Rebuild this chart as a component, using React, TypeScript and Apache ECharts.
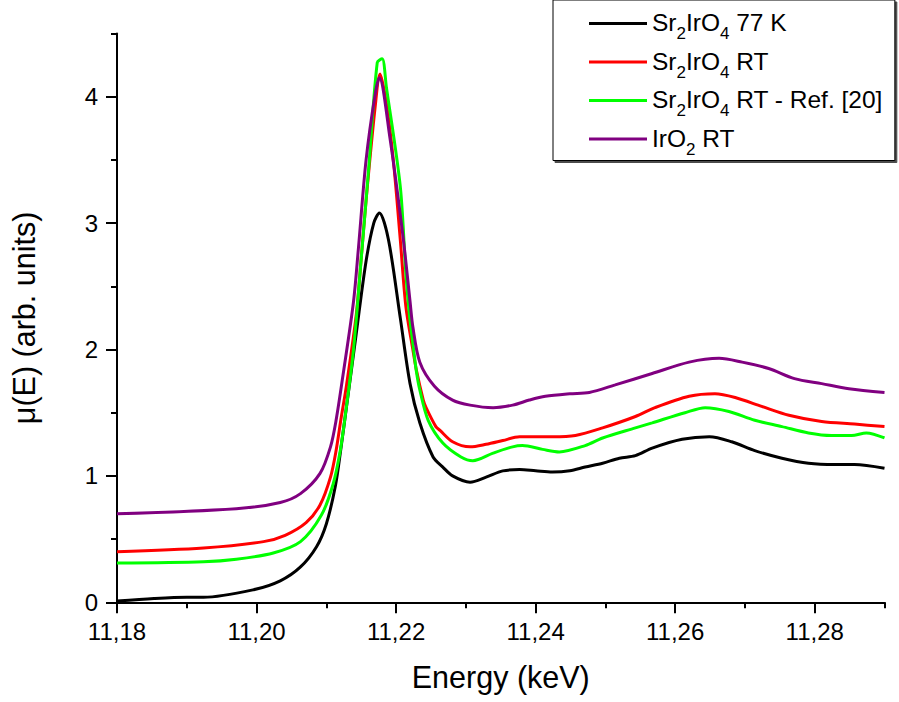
import React, { useEffect, useRef } from 'react';
import * as echarts from 'echarts';

// Energy (keV), mu(E) pairs
const sr2iro4_77K: [number, number][] = [
  [11.18, 0.01], [11.1853, 0.03], [11.19, 0.04], [11.1924, 0.04], [11.1996, 0.1],
  [11.2034, 0.17], [11.2063, 0.28], [11.2086, 0.44], [11.21, 0.62], [11.2113, 0.92],
  [11.2121, 1.22], [11.2129, 1.55], [11.2143, 2.13], [11.2157, 2.7], [11.2168, 3.0],
  [11.2176, 3.08], [11.2189, 2.87], [11.2206, 2.25], [11.222, 1.73], [11.2234, 1.42],
  [11.2253, 1.15], [11.2267, 1.07], [11.2281, 1.0], [11.2306, 0.95], [11.2329, 0.99],
  [11.2353, 1.04], [11.2377, 1.05], [11.24, 1.04], [11.2424, 1.03], [11.2449, 1.04],
  [11.2471, 1.07], [11.2496, 1.1], [11.252, 1.14], [11.2543, 1.16], [11.2567, 1.22],
  [11.261, 1.29], [11.2649, 1.31], [11.2681, 1.27], [11.2714, 1.2], [11.2753, 1.14],
  [11.2791, 1.1], [11.2829, 1.09], [11.2857, 1.09], [11.29, 1.06],
];

const sr2iro4_RT: [number, number][] = [
  [11.18, 0.4], [11.1924, 0.43], [11.201, 0.48], [11.2041, 0.53], [11.2071, 0.63],
  [11.2091, 0.77], [11.2106, 0.99], [11.2114, 1.2], [11.2121, 1.45], [11.2129, 1.72],
  [11.2143, 2.28], [11.215, 2.72], [11.2157, 3.18], [11.217, 3.92], [11.2177, 4.18],
  [11.2186, 3.95], [11.2196, 3.5], [11.2206, 2.87], [11.2214, 2.34], [11.2224, 2.0],
  [11.2229, 1.84], [11.2239, 1.6], [11.2243, 1.54], [11.2257, 1.39], [11.2263, 1.36],
  [11.2281, 1.27], [11.2306, 1.23], [11.2329, 1.25], [11.2353, 1.28], [11.2377, 1.31],
  [11.2424, 1.31], [11.2457, 1.32], [11.2496, 1.38], [11.2543, 1.47], [11.2571, 1.54],
  [11.262, 1.63], [11.2657, 1.65], [11.2686, 1.62], [11.2724, 1.55], [11.2763, 1.48],
  [11.281, 1.43], [11.2857, 1.41], [11.29, 1.39],
];

const sr2iro4_RT_ref20: [number, number][] = [
  [11.18, 0.31], [11.1924, 0.32], [11.1971, 0.34], [11.2024, 0.39], [11.2063, 0.48],
  [11.2093, 0.69], [11.211, 0.94], [11.212, 1.2], [11.2127, 1.47], [11.2139, 2.0],
  [11.2149, 2.65], [11.2161, 3.45], [11.2173, 4.27], [11.218, 4.3], [11.2186, 4.08],
  [11.2206, 3.29], [11.2214, 2.6], [11.2219, 2.28], [11.2224, 2.05], [11.2229, 1.83],
  [11.2234, 1.68], [11.2246, 1.44], [11.2267, 1.26], [11.2293, 1.15], [11.231, 1.12],
  [11.2339, 1.18], [11.2367, 1.23], [11.2381, 1.24], [11.241, 1.21], [11.2434, 1.19],
  [11.2471, 1.24], [11.2496, 1.3], [11.2543, 1.38], [11.2567, 1.42], [11.2614, 1.5],
  [11.2643, 1.54], [11.2677, 1.51], [11.2714, 1.44], [11.2753, 1.39], [11.2791, 1.34],
  [11.2824, 1.32], [11.2853, 1.32], [11.2874, 1.34], [11.29, 1.3],
];

const iro2_RT: [number, number][] = [
  [11.18, 0.7], [11.1971, 0.74], [11.2034, 0.79], [11.2063, 0.86], [11.2091, 1.02],
  [11.2106, 1.23], [11.2114, 1.44], [11.2124, 1.8], [11.2139, 2.38], [11.2146, 2.8],
  [11.2157, 3.5], [11.217, 4.02], [11.2176, 4.15], [11.2191, 3.68], [11.221, 2.89],
  [11.222, 2.38], [11.2224, 2.18], [11.2234, 1.9], [11.2255, 1.71], [11.2281, 1.6],
  [11.2306, 1.56], [11.2339, 1.54], [11.2367, 1.56], [11.2391, 1.6], [11.2414, 1.63],
  [11.2449, 1.65], [11.2477, 1.66], [11.2514, 1.72], [11.2567, 1.81], [11.262, 1.9],
  [11.2663, 1.93], [11.2696, 1.9], [11.2734, 1.85], [11.2771, 1.77], [11.281, 1.73],
  [11.2849, 1.69], [11.29, 1.66],
];

const seriesNames = ['Sr2IrO4 77 K', 'Sr2IrO4 RT', 'Sr2IrO4 RT - Ref. [20]', 'IrO2 RT'];
const seriesRich: Record<string, string> = {
  'Sr2IrO4 77 K': '{n|Sr}{s|2}{n|IrO}{s|4}{n| 77 K}',
  'Sr2IrO4 RT': '{n|Sr}{s|2}{n|IrO}{s|4}{n| RT}',
  'Sr2IrO4 RT - Ref. [20]': '{n|Sr}{s|2}{n|IrO}{s|4}{n| RT - Ref. [20]}',
  'IrO2 RT': '{n|IrO}{s|2}{n| RT}',
};
const seriesColors = ['#000000', '#ff0000', '#00ff00', '#800080'];

const xMajorTicks = [11.18, 11.2, 11.22, 11.24, 11.26, 11.28];
const xMinorTicks = [11.19, 11.21, 11.23, 11.25, 11.27, 11.29];
const yMajorTicks = [0, 1, 2, 3, 4];
const yMinorTicks = [0.5, 1.5, 2.5, 3.5, 4.5];

const FONT = '"Liberation Sans", Arial, sans-serif';

export default function App() {
  const ref = useRef<HTMLDivElement>(null);
  useEffect(() => {
    if (!ref.current) return;
    const chart = echarts.init(ref.current, undefined, { renderer: 'svg' });
    const data = [sr2iro4_77K, sr2iro4_RT, sr2iro4_RT_ref20, iro2_RT];
    const axisLineStyle = { color: '#000', width: 2 };
    chart.setOption({
      animation: false,
      backgroundColor: '#fff',
      textStyle: { fontFamily: FONT },
      grid: { left: 112, right: 14.5, top: 33.5, bottom: 99.7 },
      legend: {
        data: seriesNames,
        orient: 'vertical',
        left: 553,
        top: 0,
        padding: [10, 12, 3, 36],
        icon: 'rect',
        itemWidth: 58,
        itemHeight: 3,
        itemGap: 6.5,
        backgroundColor: '#fff',
        borderColor: '#000',
        borderWidth: 1,
        shadowColor: 'rgba(0,0,0,0.7)',
        shadowOffsetX: 2,
        shadowOffsetY: 2,
        shadowBlur: 0,
        formatter: (name: string) => seriesRich[name] || name,
        textStyle: {
          color: '#000',
          fontFamily: FONT,
          rich: {
            n: { fontSize: 24.5, lineHeight: 27, verticalAlign: 'top', color: '#000', fontFamily: FONT },
            s: { fontSize: 17, lineHeight: 15, padding: [15, 0, 0, 0], verticalAlign: 'top', color: '#000', fontFamily: FONT },
          },
        },
      },
      xAxis: [
        {
          type: 'value',
          min: 11.18,
          max: 11.29,
          position: 'bottom',
          name: 'Energy (keV)',
          nameLocation: 'middle',
          nameGap: 59,
          nameTextStyle: { fontSize: 30.5, color: '#000', fontFamily: FONT },
          axisLine: { show: true, lineStyle: axisLineStyle },
          axisTick: { show: true, customValues: xMajorTicks, length: 11, lineStyle: axisLineStyle },
          axisLabel: {
            customValues: xMajorTicks,
            formatter: (v: number) => v.toFixed(2).replace('.', ','),
            fontSize: 24,
            color: '#000',
            margin: 17,
            fontFamily: FONT,
          },
          splitLine: { show: false },
        },
        {
          type: 'value',
          min: 11.18,
          max: 11.29,
          position: 'bottom',
          offset: 0,
          axisLine: { show: false },
          axisTick: { show: true, customValues: xMinorTicks, length: 6, lineStyle: axisLineStyle },
          axisLabel: { show: false },
          splitLine: { show: false },
        },
      ],
      yAxis: [
        {
          type: 'value',
          min: 0,
          max: 4.5,
          position: 'left',
          name: 'μ(E) (arb. units)',
          nameLocation: 'middle',
          nameGap: 78,
          nameTextStyle: { fontSize: 30.5, color: '#000', fontFamily: FONT },
          axisLine: { show: true, lineStyle: axisLineStyle },
          axisTick: { show: true, customValues: yMajorTicks, length: 11, lineStyle: axisLineStyle },
          axisLabel: {
            customValues: yMajorTicks,
            formatter: (v: number) => String(v),
            fontSize: 24,
            color: '#000',
            margin: 19,
            fontFamily: FONT,
          },
          splitLine: { show: false },
        },
        {
          type: 'value',
          min: 0,
          max: 4.5,
          position: 'left',
          offset: 0,
          axisLine: { show: false },
          axisTick: { show: true, customValues: yMinorTicks, length: 6, lineStyle: axisLineStyle },
          axisLabel: { show: false },
          splitLine: { show: false },
        },
      ],
      series: seriesNames.map((name, i) => ({
        name,
        type: 'line',
        xAxisIndex: 0,
        yAxisIndex: 0,
        data: data[i],
        symbol: 'none',
        showSymbol: false,
        smooth: 0.3,
        color: seriesColors[i],
        itemStyle: { color: seriesColors[i] },
        lineStyle: { color: seriesColors[i], width: 3 },
        z: 2 + i,
      })),
    });
    return () => chart.dispose();
  }, []);
  return (
    <div
      ref={ref}
      style={{ position: 'fixed', left: 0, top: 0, width: 899, height: 702, background: '#fff' }}
    />
  );
}
